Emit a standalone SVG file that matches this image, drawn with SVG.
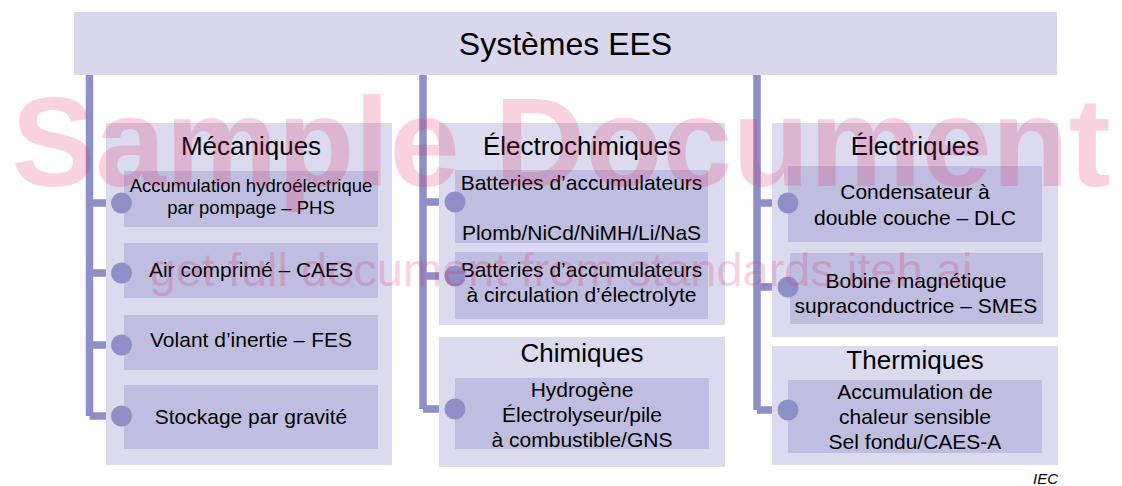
<svg xmlns="http://www.w3.org/2000/svg" width="1122" height="486" viewBox="0 0 1122 486">
<style>
.top{fill:#d9d7ec}
.cat{fill:#dcdaee}
.item{fill:#bfbee0}
.t{font-family:"Liberation Sans",Arial,sans-serif;fill:#000;text-anchor:middle}
.h1{font-size:32px}
.h2{font-size:26px}
.i{font-size:21px}
.s{font-size:18.5px}
.ln{fill:none;stroke:#8f8fc8;stroke-width:7.5}
.dot{fill:#8f8fc8}
.wm{font-family:"Liberation Sans",Arial,sans-serif;fill:#e0245e;opacity:0.2;text-anchor:middle}
</style>
<rect width="1122" height="486" fill="#fff"/>
<g id="root">
<rect class="top" x="74" y="12" width="983" height="63"/>
<text class="t h1" x="565.5" y="55">Systèmes EES</text>
</g>
<g id="connectors">
<path class="ln" d="M89.5 75 V416 M89.5 203 H121 M89.5 273 H121 M89.5 345 H121 M89.5 416 H121"/>
<path class="ln" d="M423 75 V409 M423 202 H455 M423 276 H455 M423 409 H455"/>
<path class="ln" d="M757 75 V410 M757 203 H788 M757 287 H788 M757 410 H788"/>
</g>
<g id="mecaniques">
<rect class="cat" x="106" y="123" width="286" height="342"/>
<text class="t h2" x="251" y="155">Mécaniques</text>
</g>
<g id="phs">
<rect class="item" x="124" y="171" width="254" height="56"/>
<text class="t s" x="251" y="192">Accumulation hydroélectrique</text>
<text class="t s" x="251" y="213.5">par pompage – PHS</text>
<circle class="dot" cx="121.5" cy="203" r="10.5"/>
</g>
<g id="caes">
<rect class="item" x="124" y="243" width="254" height="55"/>
<text class="t i" x="251" y="277">Air comprimé – CAES</text>
<circle class="dot" cx="121.5" cy="273" r="10.5"/>
</g>
<g id="fes">
<rect class="item" x="124" y="315" width="254" height="55"/>
<text class="t i" x="251" y="347">Volant d’inertie – FES</text>
<circle class="dot" cx="121.5" cy="345" r="10.5"/>
</g>
<g id="gravite">
<rect class="item" x="124" y="385" width="254" height="64"/>
<text class="t i" x="251" y="423.5">Stockage par gravité</text>
<circle class="dot" cx="121.5" cy="416" r="10.5"/>
</g>
<g id="electrochimiques">
<rect class="cat" x="439" y="123" width="286" height="202"/>
<text class="t h2" x="582" y="155">Électrochimiques</text>
</g>
<g id="batteries">
<rect class="item" x="455" y="170" width="253" height="73"/>
<text class="t i" x="581.5" y="190">Batteries d’accumulateurs</text>
<text class="t i" x="581.5" y="240">Plomb/NiCd/NiMH/Li/NaS</text>
<circle class="dot" cx="455" cy="202" r="10.5"/>
</g>
<g id="flux">
<rect class="item" x="455" y="252" width="253" height="67"/>
<text class="t i" x="581.5" y="277">Batteries d’accumulateurs</text>
<text class="t i" x="581.5" y="302">à circulation d’électrolyte</text>
<circle class="dot" cx="455" cy="276" r="10.5"/>
</g>
<g id="chimiques">
<rect class="cat" x="439" y="337" width="286" height="130"/>
<text class="t h2" x="582" y="362">Chimiques</text>
</g>
<g id="hydrogene">
<rect class="item" x="455" y="378" width="254" height="71"/>
<text class="t i" x="582" y="396.5">Hydrogène</text>
<text class="t i" x="582" y="421.5">Électrolyseur/pile</text>
<text class="t i" x="582" y="446.5">à combustible/GNS</text>
<circle class="dot" cx="455" cy="409" r="10.5"/>
</g>
<g id="electriques">
<rect class="cat" x="772" y="123" width="286" height="214"/>
<text class="t h2" x="915" y="155">Électriques</text>
</g>
<g id="dlc">
<rect class="item" x="788" y="166" width="254" height="76"/>
<text class="t i" x="915" y="199">Condensateur à</text>
<text class="t i" x="915" y="224.5">double couche – DLC</text>
<circle class="dot" cx="788" cy="203" r="10.5"/>
</g>
<g id="smes">
<rect class="item" x="790" y="253" width="253" height="71"/>
<text class="t i" x="916" y="288">Bobine magnétique</text>
<text class="t i" x="916" y="313">supraconductrice – SMES</text>
<circle class="dot" cx="788" cy="287" r="10.5"/>
</g>
<g id="thermiques">
<rect class="cat" x="772" y="346" width="286" height="119"/>
<text class="t h2" x="915" y="368.5">Thermiques</text>
</g>
<g id="chaleur">
<rect class="item" x="788" y="380" width="254" height="73"/>
<text class="t i" x="915" y="398.5">Accumulation de</text>
<text class="t i" x="915" y="423.5">chaleur sensible</text>
<text class="t i" x="915" y="448.5">Sel fondu/CAES-A</text>
<circle class="dot" cx="788" cy="410" r="10.5"/>
</g>
<text x="1058" y="484" font-family="Liberation Sans, Arial, sans-serif" font-size="15" font-style="italic" text-anchor="end" fill="#000">IEC</text>
<g id="watermark">
<text class="wm" x="561" y="186" font-size="126" font-weight="bold">Sample Document</text>
<text class="wm" x="561" y="286" font-size="47">get full document from standards.iteh.ai</text>
</g>
</svg>
